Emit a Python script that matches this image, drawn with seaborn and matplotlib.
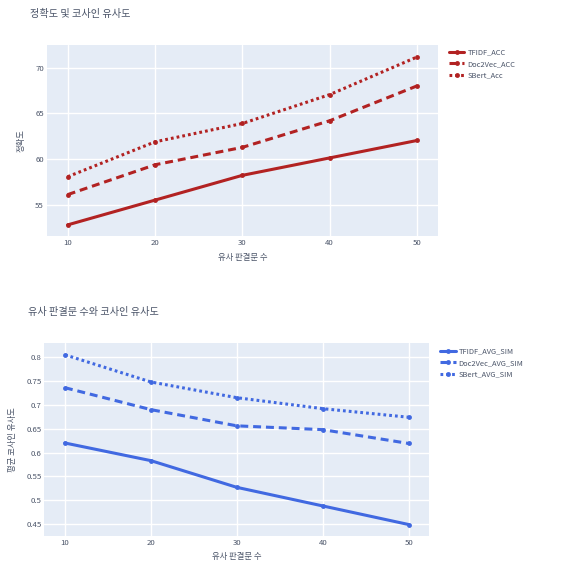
import matplotlib.pyplot as plt
import seaborn as sns
import numpy as np
import pandas as pd

# data
counts = [10, 20, 30, 40, 50]
tfidf_acc = [52.85, 55.55, 58.25, 60.15, 62.05]
doc2vec_acc = [56.15, 59.4, 61.3, 64.2, 68.0]
sbert_acc = [58.1, 61.9, 63.9, 67.05, 71.15]

tfidf_sim = [0.620, 0.583, 0.527, 0.488, 0.449]
doc2vec_sim = [0.736, 0.690, 0.656, 0.648, 0.619]
sbert_sim = [0.805, 0.748, 0.715, 0.692, 0.674]

sns.set_style('white')
plt.rcParams['font.family'] = ['Noto Sans CJK KR', 'DejaVu Sans']

text_col = '#4a5468'
bg = '#E5ECF6'
red = '#B22222'
blue = '#4169E1'

styles = [('-', None), ('--', (2.6, 1.6)), (':', (0.9, 1.0))]

fig = plt.figure(figsize=(5.73, 5.63), dpi=100)
ax1 = fig.add_axes([0.0815, 0.581, 0.683, 0.339])
ax2 = fig.add_axes([0.0773, 0.048, 0.672, 0.343])


def draw(ax, series, names, color, leg_y):
    for vals, name, (ls, dash) in zip(series, names, styles):
        df = pd.DataFrame({'n': counts, 'v': vals})
        sns.lineplot(data=df, x='n', y='v', ax=ax, color=color, linewidth=2.2,
                     marker='o', markersize=3.5, markeredgewidth=0,
                     label=name, linestyle=ls)
        if dash is not None:
            ax.lines[-1].set_dashes(dash)
    ax.set_facecolor(bg)
    ax.grid(True, color='white', linewidth=1)
    ax.set_axisbelow(True)
    for s in ax.spines.values():
        s.set_visible(False)
    ax.tick_params(length=0, labelsize=5.6, colors=text_col, pad=2)
    ax.set_xticks(counts)
    ax.set_xlim(7.6, 52.4)
    ax.legend(loc='upper left', bbox_to_anchor=(1.01, leg_y), frameon=False,
              fontsize=5.4, labelcolor=text_col, handlelength=2.1,
              handletextpad=0.4, labelspacing=0.45)


draw(ax1, [tfidf_acc, doc2vec_acc, sbert_acc],
     ['TFIDF_ACC', 'Doc2Vec_ACC', 'SBert_Acc'], red, 1.016)
ax1.set_ylim(51.65, 72.45)
ax1.set_yticks([55, 60, 65, 70])
ax1.set_xlabel('유사 판결문 수', fontsize=6, color=text_col)
ax1.set_ylabel('정확도', fontsize=6, color=text_col)
ax1.xaxis.set_label_coords(0.5, -0.09)
ax1.yaxis.set_label_coords(-0.053, 0.5)

draw(ax2, [tfidf_sim, doc2vec_sim, sbert_sim],
     ['TFIDF_AVG_SIM', 'Doc2Vec_AVG_SIM', 'SBert_AVG_SIM'], blue, 1.01)
ax2.set_ylim(0.425, 0.83)
ax2.set_yticks([0.45, 0.5, 0.55, 0.6, 0.65, 0.7, 0.75, 0.8])
ax2.set_yticklabels(['0.45', '0.5', '0.55', '0.6', '0.65', '0.7', '0.75', '0.8'])
ax2.set_xlabel('유사 판결문 수', fontsize=6, color=text_col)
ax2.set_ylabel('평균 코사인 유사도', fontsize=6, color=text_col)
ax2.xaxis.set_label_coords(0.5, -0.085)
ax2.yaxis.set_label_coords(-0.072, 0.5)

fig.text(30 / 573, 1 - 14 / 563, '정확도 및 코사인 유사도', fontsize=7.3,
         color=text_col, va='center', ha='left')
fig.text(28 / 573, 1 - 312 / 563, '유사 판결문 수와 코사인 유사도', fontsize=7.3,
         color=text_col, va='center', ha='left')

fig.savefig('out.png', dpi=100)
